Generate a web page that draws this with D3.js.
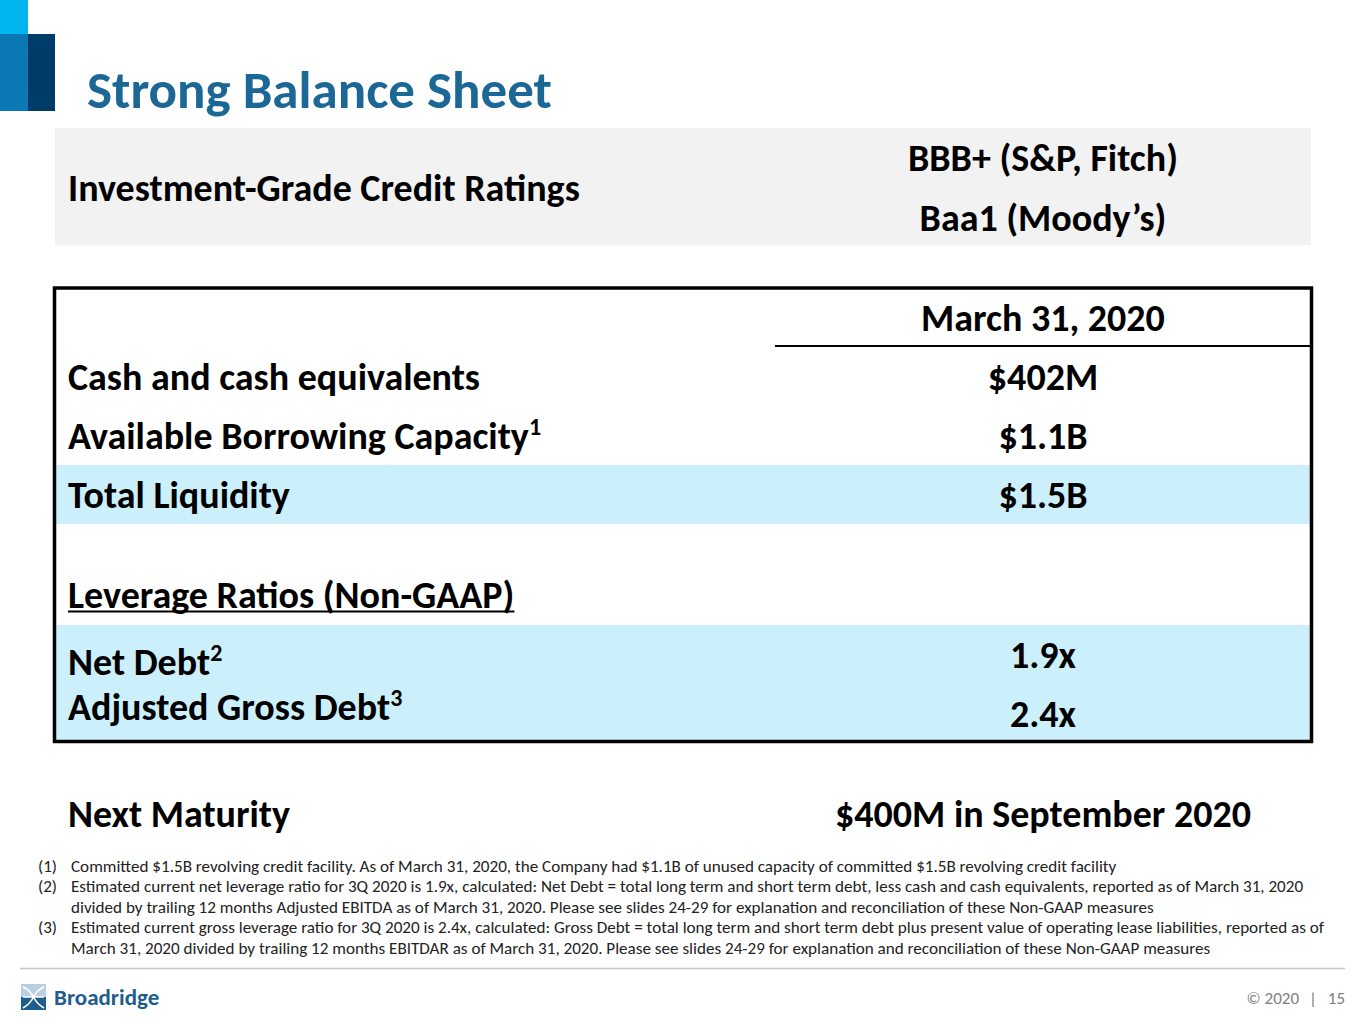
<!doctype html>
<html lang="en">
<head>
  <meta charset="utf-8">
  <title>Strong Balance Sheet</title>
  <style>
    html, body { margin: 0; padding: 0; background: #fff; }
    svg { display: block; }
    text { font-family: Carlito, Calibri, Lato, "Open Sans", sans-serif; }
  </style>
</head>
<body>
  <svg id="svg" width="1365" height="1024" viewBox="0 0 1365 1024"></svg>

  <script src="https://cdn.jsdelivr.net/npm/d3@7"></script>
  <script>
    // ---- data ----
    var title = "Strong Balance Sheet";
    var ratingsLabel = "Investment-Grade Credit Ratings";
    var ratings = ["BBB+ (S&P, Fitch)", "Baa1 (Moody\u2019s)"];

    var columnHeader = "March 31, 2020";
    var liquidityLabels = ["Cash and cash equivalents", "Available Borrowing Capacity", "Total Liquidity"];
    var liquidityNotes = ["", "1", ""];
    var liquidityValues = ["$402M", "$1.1B", "$1.5B"];

    var leverageHeader = "Leverage Ratios (Non-GAAP)";
    var leverageLabels = ["Net Debt", "Adjusted Gross Debt"];
    var leverageNotes = ["2", "3"];
    var leverageValues = [1.9, 2.4];

    var maturityLabel = "Next Maturity";
    var maturityValue = "$400M in September 2020";

    var footnoteMarks = ["(1)", "(2)", "", "(3)", ""];
    var footnoteLines = [
      "Committed $1.5B revolving credit facility. As of March 31, 2020, the Company had $1.1B of unused capacity of committed $1.5B revolving credit facility",
      "Estimated current net leverage ratio for 3Q 2020 is 1.9x, calculated: Net Debt = total long term and short term debt, less cash and cash equivalents, reported as of March 31, 2020",
      "divided by trailing 12 months Adjusted EBITDA as of March 31, 2020. Please see slides 24-29 for explanation and reconciliation of these Non-GAAP measures",
      "Estimated current gross leverage ratio for 3Q 2020 is 2.4x, calculated: Gross Debt = total long term and short term debt plus present value of operating lease liabilities, reported as of",
      "March 31, 2020 divided by trailing 12 months EBITDAR as of March 31, 2020. Please see slides 24-29 for explanation and reconciliation of these Non-GAAP measures"
    ];
    var footerParts = ["\u00a9 2020", "|", "15"];

    var svg = d3.select("#svg");

    var titleBlue = "#1b6896";
    var band = "#ccf0fb";
    var valueX = 1043;
    var big = 38, sup = 24, small = 17.1;

    // corner blocks
    svg.append("rect").attr("x", 0).attr("y", 0).attr("width", 28).attr("height", 34).attr("fill", "#00b5ef");
    svg.append("rect").attr("x", 0).attr("y", 34).attr("width", 28).attr("height", 77).attr("fill", "#0a78b4");
    svg.append("rect").attr("x", 28).attr("y", 34).attr("width", 27).attr("height", 77).attr("fill", "#003c69");

    svg.append("text")
      .attr("x", 87).attr("y", 108)
      .attr("fill", titleBlue)
      .attr("font-size", 53).attr("font-weight", "bold")
      .text(title);

    // ratings box
    svg.append("rect").attr("x", 55).attr("y", 128).attr("width", 1256).attr("height", 117).attr("fill", "#f2f2f2");
    svg.append("text")
      .attr("x", 68).attr("y", 188).attr("dy", "0.35em")
      .attr("font-size", big).attr("font-weight", "bold")
      .text(ratingsLabel);

    var ratingY = d3.scalePoint().domain(ratings).range([158, 218]);
    svg.selectAll(".rating").data(ratings).join("text")
      .attr("class", "rating")
      .attr("x", valueX).attr("y", function(d) { return ratingY(d); }).attr("dy", "0.35em")
      .attr("text-anchor", "middle")
      .attr("font-size", big).attr("font-weight", "bold")
      .text(function(d) { return d; });

    // table
    var rowY = d3.scaleLinear().domain([0, 1]).range([377, 436]);

    svg.append("rect").attr("x", 55).attr("y", rowY(2) - 30).attr("width", 1256).attr("height", 59).attr("fill", band);
    svg.append("rect").attr("x", 55).attr("y", 625).attr("width", 1256).attr("height", 116).attr("fill", band);

    svg.append("rect")
      .attr("x", 54.5).attr("y", 288).attr("width", 1257).attr("height", 453.5)
      .attr("fill", "none").attr("stroke", "#000").attr("stroke-width", 3.5);

    svg.append("text")
      .attr("x", valueX).attr("y", rowY(-1)).attr("dy", "0.35em")
      .attr("text-anchor", "middle")
      .attr("font-size", big).attr("font-weight", "bold")
      .text(columnHeader);
    svg.append("line")
      .attr("x1", 775).attr("x2", 1310).attr("y1", 346).attr("y2", 346)
      .attr("stroke", "#000").attr("stroke-width", 2);

    var liq = svg.selectAll(".liq").data(liquidityLabels).join("text")
      .attr("class", "liq")
      .attr("x", 68).attr("y", function(d, i) { return rowY(i); }).attr("dy", "0.35em")
      .attr("font-size", big).attr("font-weight", "bold");
    liq.append("tspan").text(function(d) { return d; });
    liq.append("tspan")
      .attr("font-size", sup).attr("dy", "-0.6em")
      .text(function(d, i) { return liquidityNotes[i]; });

    svg.selectAll(".liqv").data(liquidityValues).join("text")
      .attr("class", "liqv")
      .attr("x", valueX).attr("y", function(d, i) { return rowY(i); }).attr("dy", "0.35em")
      .attr("text-anchor", "middle")
      .attr("font-size", big).attr("font-weight", "bold")
      .text(function(d) { return d; });

    // underlined section header (underline drawn as a solid line)
    var levHead = svg.append("text")
      .attr("x", 68).attr("y", 595).attr("dy", "0.35em")
      .attr("font-size", big).attr("font-weight", "bold")
      .text(leverageHeader);
    var headW = levHead.node().getComputedTextLength();
    svg.append("line")
      .attr("x1", 68).attr("x2", 68 + headW).attr("y1", 611.5).attr("y2", 611.5)
      .attr("stroke", "#000").attr("stroke-width", 2.2);

    var levLabelY = d3.scalePoint().domain(leverageLabels).range([662, 707]);
    var levValueY = d3.scalePoint().domain(leverageLabels).range([655, 714]);

    var levl = svg.selectAll(".levl").data(leverageLabels).join("text")
      .attr("class", "levl")
      .attr("x", 68).attr("y", function(d) { return levLabelY(d); }).attr("dy", "0.35em")
      .attr("font-size", big).attr("font-weight", "bold");
    levl.append("tspan").text(function(d) { return d; });
    levl.append("tspan")
      .attr("font-size", sup).attr("dy", "-0.6em")
      .text(function(d, i) { return leverageNotes[i]; });

    var fmtX = function(v) { return d3.format(".1f")(v) + "x"; };
    svg.selectAll(".levv").data(leverageValues).join("text")
      .attr("class", "levv")
      .attr("x", valueX).attr("y", function(d, i) { return levValueY(leverageLabels[i]); }).attr("dy", "0.35em")
      .attr("text-anchor", "middle")
      .attr("font-size", big).attr("font-weight", "bold")
      .text(fmtX);

    // next maturity
    svg.append("text")
      .attr("x", 68).attr("y", 814).attr("dy", "0.35em")
      .attr("font-size", big).attr("font-weight", "bold")
      .text(maturityLabel);
    svg.append("text")
      .attr("x", valueX).attr("y", 814).attr("dy", "0.35em")
      .attr("text-anchor", "middle")
      .attr("font-size", big).attr("font-weight", "bold")
      .text(maturityValue);

    // footnotes
    var noteY = d3.scaleLinear().domain([0, 4]).range([866, 948]);
    svg.selectAll(".fmark").data(footnoteMarks).join("text")
      .attr("class", "fmark")
      .attr("x", 38).attr("y", function(d, i) { return noteY(i); }).attr("dy", "0.35em")
      .attr("font-size", small).attr("fill", "#222")
      .text(function(d) { return d; });
    svg.selectAll(".fline").data(footnoteLines).join("text")
      .attr("class", "fline")
      .attr("x", 71).attr("y", function(d, i) { return noteY(i); }).attr("dy", "0.35em")
      .attr("font-size", small).attr("fill", "#222")
      .text(function(d) { return d; });

    // footer
    svg.append("line")
      .attr("x1", 20).attr("x2", 1345).attr("y1", 968.5).attr("y2", 968.5)
      .attr("stroke", "#c8c8c8").attr("stroke-width", 1.5);

    var logo = svg.append("g").attr("transform", "translate(21,984)");
    logo.append("rect").attr("width", 25).attr("height", 13).attr("fill", "#b9d0e3");
    logo.append("rect").attr("y", 13).attr("width", 25).attr("height", 13).attr("fill", "#1f5d8e");
    logo.append("path")
      .attr("d", "M2,3 C9,6 11,10 12.5,13 C14,10 16,6 23,3 M2,24 C9,20 11,16 12.5,13 C14,16 16,20 23,24 M2,13 L23,13")
      .attr("fill", "none").attr("stroke", "#fff").attr("stroke-width", 1.6);
    svg.append("text")
      .attr("x", 54).attr("y", 997).attr("dy", "0.35em")
      .attr("font-size", 23).attr("font-weight", "bold").attr("fill", "#1f5d8e")
      .text("Broadridge");

    var footerX = d3.scaleOrdinal().domain(footerParts).range([1299, 1313, 1345]);
    svg.selectAll(".foot").data(footerParts).join("text")
      .attr("class", "foot")
      .attr("x", function(d) { return footerX(d); }).attr("y", 998).attr("dy", "0.35em")
      .attr("text-anchor", function(d, i) { return i === 1 ? "middle" : "end"; })
      .attr("font-size", 17).attr("fill", "#808080")
      .text(function(d) { return d; });
  </script>
</body>
</html>
